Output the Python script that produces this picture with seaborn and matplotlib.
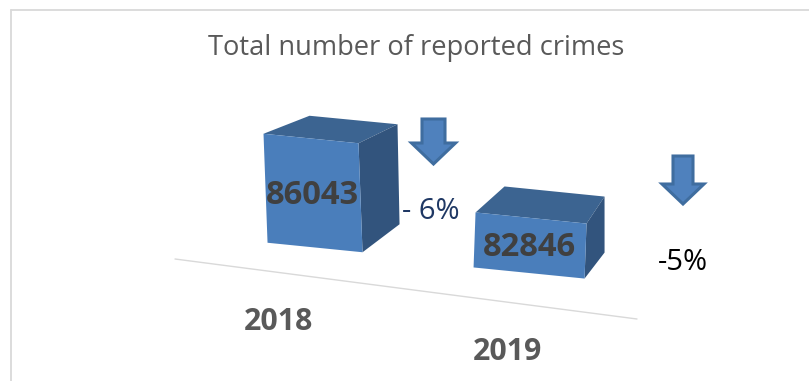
import matplotlib
matplotlib.use("Agg")
import matplotlib.pyplot as plt
import pandas as pd
import seaborn as sns
from matplotlib.lines import Line2D
from matplotlib.patches import Polygon
from matplotlib.transforms import Affine2D

# Values shown on the chart
TITLE = "Total number of reported crimes"
YEARS = ["2018", "2019"]
CRIMES = [86043, 82846]
BAR_CHANGE = ["- 6%", "-5%"]

# Colours
FRONT = "#4a7ebb"
TOP = "#3c6491"
SIDE = "#32547d"
ARROW_EDGE = "#3f6d9f"
ARROW_FILL = "#4f81bd"
RULE = "#d9d9d9"
TITLE_GREY = "#595959"
LABEL_GREY = "#404040"

# Perspective settings: the floor starts at FLOOR and each box gets its own
# on-screen width, lean and depth vectors (x, y in pixels, y pointing down).
W, H = 809, 381
FLOOR = 79590
BAR_WIDTH = 0.48
SHEAR = 0.10
WIDTHS_PX = [95, 111]
LEAN = [-0.037, 0.036]
DROP_PX = [0, 25.5]
DEPTH_TL = [(46, -18), (29, -26)]
DEPTH_TR = [(39, -19), (18, -27)]
DEPTH_BR = [(37, -28), (20, -26)]

sns.set_theme(style="white")
plt.rcParams["font.family"] = ["Open Sans", "DejaVu Sans"]

fig = plt.figure(figsize=(W / 100, H / 100), dpi=100)
ax = fig.add_axes([0, 0, 1, 1])
frame = pd.DataFrame({"year": YEARS, "crimes": CRIMES})
sns.barplot(data=frame, x="year", y="crimes", color=FRONT, width=BAR_WIDTH,
            saturation=1, ax=ax, zorder=3, linewidth=0)
ax.set_xlim(-1.472, 2.308)
ax.set_ylim(71686, 94244)
ax.set_axis_off()
fig.canvas.draw()

# Transform for annotations placed in image pixels, origin at the top left
PX = Affine2D().scale(1, -1).translate(0, H)


def image_xy(point):
    x, y = point
    return x, H - y


for i, bar in enumerate(ax.patches):
    top_value = bar.get_height()
    bar.set_y(FLOOR)
    bar.set_height(top_value - FLOOR)

    # Shear each front face about the middle of its base
    cx, base = ax.transData.transform((bar.get_x() + bar.get_width() / 2, FLOOR))
    native = ax.transData.transform((bar.get_width(), 0))[0] - ax.transData.transform((0, 0))[0]
    sx = WIDTHS_PX[i] / native
    face = Affine2D.from_values(sx, -SHEAR * sx, LEAN[i], 1, 0, 0)
    place = (Affine2D().translate(-cx, -base) + face
             + Affine2D().translate(cx, base - DROP_PX[i]))
    bar.set_transform(ax.transData + place)

    left, right = bar.get_x(), bar.get_x() + bar.get_width()
    corner = lambda x, v: image_xy(
        place.transform(ax.transData.transform((x, v))))
    tl, tr = corner(left, top_value), corner(right, top_value)
    br = corner(right, FLOOR)
    back_tl = (tl[0] + DEPTH_TL[i][0], tl[1] + DEPTH_TL[i][1])
    back_tr = (tr[0] + DEPTH_TR[i][0], tr[1] + DEPTH_TR[i][1])
    back_br = (br[0] + DEPTH_BR[i][0], br[1] + DEPTH_BR[i][1])

    ax.add_patch(Polygon([tl, back_tl, back_tr, tr], closed=True, facecolor=TOP,
                         edgecolor="none", transform=PX, zorder=2))
    ax.add_patch(Polygon([tr, back_tr, back_br, br], closed=True, facecolor=SIDE,
                         edgecolor="none", transform=PX, zorder=2))

# Value labels sit on the front faces
LABEL_XY = [(312, 196), (529, 248)]
for value, (lx, ly) in zip(CRIMES, LABEL_XY):
    ax.text(lx, ly, str(value), transform=PX, ha="center", va="center",
            fontsize=23.6, fontweight="bold", color=LABEL_GREY, zorder=4)


def down_arrow(cx, top, shaft_w, head_w, wing_y, tip_y):
    """Block arrow pointing down, used to flag a fall."""
    pts = [(cx - shaft_w / 2, top), (cx + shaft_w / 2, top),
           (cx + shaft_w / 2, wing_y), (cx + head_w / 2, wing_y),
           (cx, tip_y), (cx - head_w / 2, wing_y), (cx - shaft_w / 2, wing_y)]
    ax.add_patch(Polygon(pts, closed=True, facecolor=ARROW_FILL, edgecolor=ARROW_EDGE,
                         linewidth=2.2, joinstyle="miter", transform=PX, zorder=3))


down_arrow(433.5, 119, 23, 44, 143, 164)
down_arrow(683, 156, 20, 42, 184, 204)

# Text around the boxes
ax.text(416, 45, TITLE, transform=PX, ha="center", va="center_baseline",
        fontsize=19.6, color=TITLE_GREY)
ax.text(431, 208, BAR_CHANGE[0], transform=PX, ha="center", va="center_baseline",
        fontsize=21, color="#1f3864")
ax.text(682.5, 259, BAR_CHANGE[1], transform=PX, ha="center", va="center_baseline",
        fontsize=21, color="black")
ax.text(278, 319, YEARS[0], transform=PX, ha="center", va="center_baseline",
        fontsize=21.8, fontweight="bold", color=TITLE_GREY)
ax.text(507, 348, YEARS[1], transform=PX, ha="center", va="center_baseline",
        fontsize=21.8, fontweight="bold", color=TITLE_GREY)

# Floor line and the chart-area border on the left and top
rules = [((175, 637), (259, 319), 1.0), ((10.5, 10.5), (381, 9.5), 1.3), ((10.5, 809), (9.5, 9.5), 1.3)]
for xs, ys, lw in rules:
    ax.add_line(Line2D(xs, ys, color=RULE, linewidth=lw, transform=PX, zorder=1))

fig.savefig("out.png", dpi=100, facecolor="white")
